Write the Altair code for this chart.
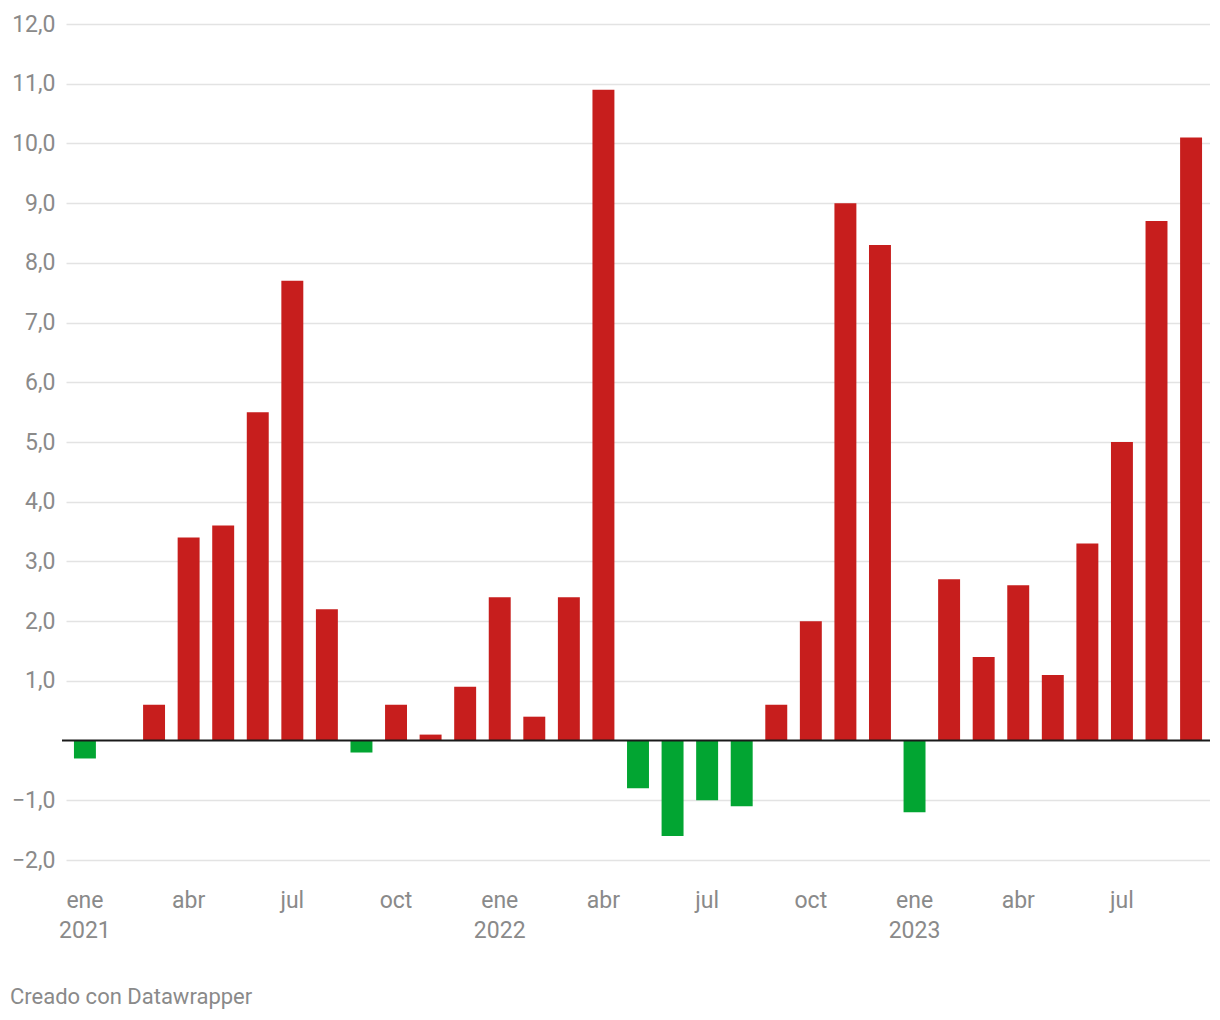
import altair as alt
import pandas as pd

months = ["ene", "feb", "mar", "abr", "may", "jun", "jul", "ago", "sep", "oct", "nov", "dic"]
years = ["2021", "2022", "2023"]
periods = [f"{m} {y}" for y in years for m in months][:33]
values = [
    -0.3, 0.0, 0.6, 3.4, 3.6, 5.5, 7.7, 2.2, -0.2, 0.6, 0.1, 0.9,
    2.4, 0.4, 2.4, 10.9, -0.8, -1.6, -1.0, -1.1, 0.6, 2.0, 9.0, 8.3,
    -1.2, 2.7, 1.4, 2.6, 1.1, 3.3, 5.0, 8.7, 10.1,
]
y_ticks = [-2, -1, 1, 2, 3, 4, 5, 6, 7, 8, 9, 10, 11, 12]
footer = "Creado con Datawrapper"

RED = "#c71e1d"
GREEN = "#02a532"
W, H = 1144, 836

df = pd.DataFrame({"period": periods, "value": values})

x_label_expr = (
    "split(datum.value, ' ')[0] == 'ene' ? split(datum.value, ' ') : "
    "(indexof(['abr','jul','oct'], split(datum.value, ' ')[0]) >= 0 ? split(datum.value, ' ')[0] : '')"
)

bars = alt.Chart(df).mark_bar().encode(
    x=alt.X(
        "period:N",
        sort=periods,
        scale=alt.Scale(paddingInner=0.365, paddingOuter=0.23),
        axis=alt.Axis(
            title=None, domain=False, ticks=False, grid=False, labelAngle=0,
            labelExpr=x_label_expr, labelFont="Roboto", labelFontSize=23,
            labelColor="#8a8a8a", labelPadding=40, labelLineHeight=30,
            labelBaseline="middle", labelOverlap=False,
        ),
    ),
    y=alt.Y(
        "value:Q",
        scale=alt.Scale(domain=[-2, 12], nice=False, zero=False),
        axis=alt.Axis(
            title=None, domain=False, ticks=False, values=y_ticks,
            labelExpr="replace(format(datum.value, '.1f'), '.', ',')",
            labelFont="Roboto", labelFontSize=23, labelColor="#8a8a8a",
            labelPadding=11, gridColor="#e3e3e3", gridWidth=1.5,
        ),
    ),
    color=alt.condition(alt.datum.value > 0, alt.value(RED), alt.value(GREEN)),
)

zero = alt.Chart(pd.DataFrame({"z": [0]})).mark_rule(color="#1a1a1a", strokeWidth=2).encode(
    y="z:Q", x=alt.value(-4), x2=alt.value(W)
)

foot = alt.Chart(pd.DataFrame({"t": [footer]})).mark_text(
    align="left", baseline="middle", font="Roboto", fontSize=22, color="#8a8a8a"
).encode(text="t:N", x=alt.value(-56), y=alt.value(H + 137))

chart = alt.layer(bars, zero, foot).properties(
    width=W, height=H,
    autosize=alt.AutoSizeParams(type="none"),
    padding={"left": 58, "top": 16, "right": 0, "bottom": 150},
).configure_view(stroke=None)

chart.save("out.html", embed_options={"renderer": "svg", "actions": False})
